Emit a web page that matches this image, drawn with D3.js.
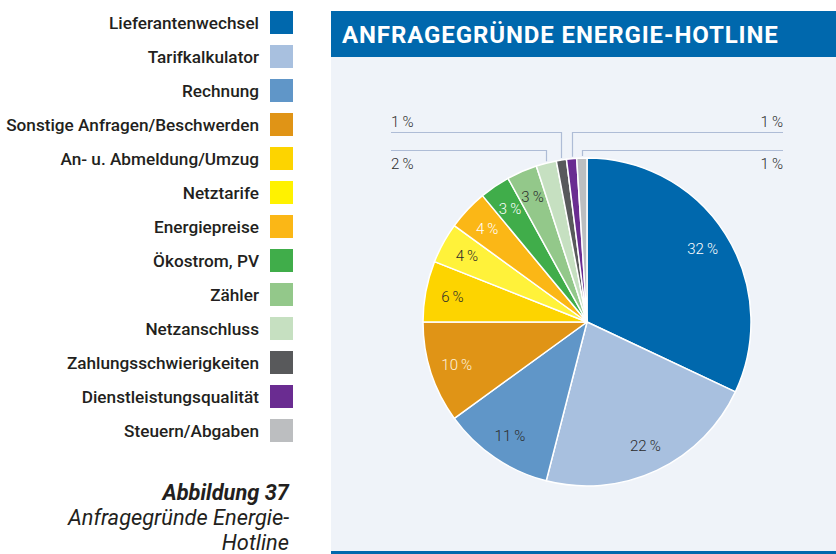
<!DOCTYPE html>
<html lang="de">
<head>
<meta charset="utf-8">
<script src="https://cdn.jsdelivr.net/npm/d3@7"></script>
<style>
  html, body { margin: 0; padding: 0; background: #ffffff; }
  svg { display: block; }
</style>
</head>
<body>
<svg id="chart" width="836" height="554"></svg>
<script>
// Anfragegründe der Energie-Hotline, Anteile in Prozent
const categories = [
  "Lieferantenwechsel",
  "Tarifkalkulator",
  "Rechnung",
  "Sonstige Anfragen/Beschwerden",
  "An- u. Abmeldung/Umzug",
  "Netztarife",
  "Energiepreise",
  "Ökostrom, PV",
  "Zähler",
  "Netzanschluss",
  "Zahlungsschwierigkeiten",
  "Dienstleistungsqualität",
  "Steuern/Abgaben"
];
const values = [32, 22, 11, 10, 6, 4, 4, 3, 3, 2, 1, 1, 1];

const palette = [
  "#0068ad", "#a8c0df", "#6096c8", "#e09416", "#fdd400", "#fff23a",
  "#fbb716", "#40ad4a", "#93c88a", "#c6e0c1", "#58595b", "#6a2c91", "#bcbec0"
];
const legendPalette = palette.map((c, i) => i === 5 ? "#fff200" : c);
const labelInk = [
  "#ffffff", "#2b2b2b", "#2b2b2b", "#fdf2dc", "#2b2b2b", "#2b2b2b",
  "#ffffff", "#ffffff", "#2b2b2b", "#2b2b2b", "#2b2b2b", "#2b2b2b", "#2b2b2b"
];

const titleText = "ANFRAGEGRÜNDE ENERGIE-HOTLINE";
const captionLines = ["Abbildung 37", "Anfragegründe Energie-", "Hotline"];

const fmt = v => `${v}\u2009%`;

const svg = d3.select("#chart");
const textFont = "Roboto, 'Open Sans', sans-serif";

// ---- Legend (right-aligned labels with colour swatches) ----
const legendY = d3.scalePoint().domain(categories).range([22.5, 430.5]);
const legend = svg.append("g");
const rows = legend.selectAll("g").data(categories).join("g")
  .attr("transform", d => `translate(0,${legendY(d)})`);
rows.append("rect")
  .attr("x", 270).attr("y", -11.5).attr("width", 23).attr("height", 23)
  .attr("fill", (d, i) => legendPalette[i]);
rows.append("text")
  .attr("x", 259).attr("y", 0).attr("dy", "0.36em")
  .attr("text-anchor", "end")
  .attr("font-family", textFont).attr("font-weight", 500)
  .attr("font-size", 17.2).attr("fill", "#231f20")
  .text(d => d);

// ---- Caption ----
const cap = svg.append("g").attr("font-family", textFont).attr("font-style", "italic")
  .attr("fill", "#231f20").attr("text-anchor", "end");
captionLines.forEach((line, i) => {
  cap.append("text")
    .attr("x", 289).attr("y", 500 + i * 25)
    .attr("font-size", 21.8)
    .attr("font-weight", i === 0 ? 700 : 400)
    .text(line);
});

// ---- Panel ----
svg.append("rect").attr("x", 331).attr("y", 11).attr("width", 505).attr("height", 543)
  .attr("fill", "#eff3f9");
svg.append("rect").attr("x", 331).attr("y", 11).attr("width", 505).attr("height", 46)
  .attr("fill", "#0068ad");
svg.append("rect").attr("x", 331).attr("y", 551).attr("width", 505).attr("height", 3)
  .attr("fill", "#0068ad");
svg.append("text")
  .attr("x", 342).attr("y", 42.5)
  .attr("font-family", textFont).attr("font-weight", 700)
  .attr("font-size", 24).attr("letter-spacing", 0.9).attr("fill", "#ffffff")
  .text(titleText);

// ---- Pie ----
const cx = 587, cy = 322, R = 164;
const pie = d3.pie().sort(null).value(d => d.v);
const arcs = pie(values.map((v, i) => ({ v, i })));
const arc = d3.arc().innerRadius(0).outerRadius(R);
const labelArc = d3.arc().innerRadius(137).outerRadius(137);

const g = svg.append("g").attr("transform", `translate(${cx},${cy})`);
g.selectAll("path").data(arcs).join("path")
  .attr("d", arc)
  .attr("fill", d => palette[d.data.i])
  .attr("stroke", "#ffffff").attr("stroke-width", 1.5)
  .attr("stroke-linejoin", "round");

const big = arcs.filter(d => d.data.v >= 3);
g.selectAll("text.inner").data(big).join("text")
  .attr("class", "inner")
  .attr("transform", d => `translate(${labelArc.centroid(d)})`)
  .attr("text-anchor", "middle").attr("dy", "0.36em")
  .attr("font-family", textFont).attr("font-weight", 300)
  .attr("font-size", 15).attr("fill", d => labelInk[d.data.i])
  .text(d => fmt(d.data.v));

// Small slices: callout lines to labels at the panel edges
const small = arcs.filter(d => d.data.v < 3);
const half = Math.ceil(small.length / 2);
const levels = [132.5, 150.5];
const leftX = 391, rightX = 783;
small.forEach((d, k) => {
  const mid = (d.startAngle + d.endAngle) / 2;
  const px = cx + R * Math.sin(mid);
  const py = cy - R * Math.cos(mid) - 2;
  const left = k < half;
  const level = left ? levels[half - 1 - k] : levels[k - half];
  const upper = level === levels[0];
  const ex = left ? leftX : rightX;
  const lx = Math.round(px) + 0.5;
  svg.append("path")
    .attr("d", d3.line()([[ex, level], [lx, level], [lx, py]]))
    .attr("fill", "none").attr("stroke", "#aebcd6").attr("stroke-width", 1.2);
  svg.append("text")
    .attr("x", ex).attr("y", upper ? level - 6 : level + 18)
    .attr("text-anchor", left ? "start" : "end")
    .attr("font-family", textFont).attr("font-weight", 300)
    .attr("font-size", 15).attr("fill", "#2b2b2b")
    .text(fmt(d.data.v));
});
</script>
</body>
</html>
